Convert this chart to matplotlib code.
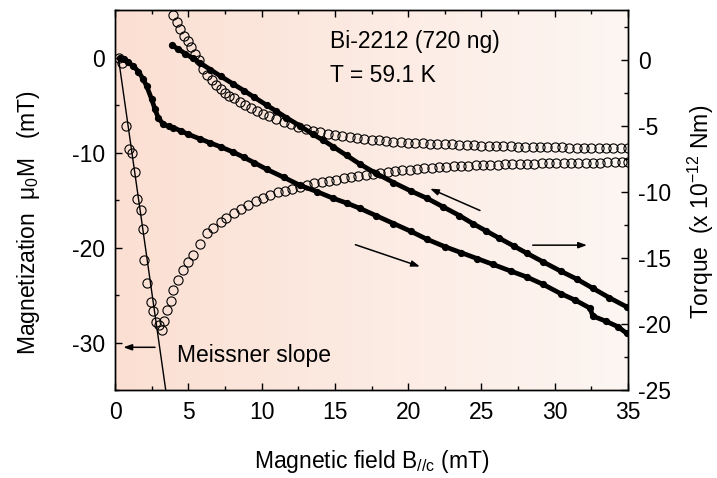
import matplotlib
matplotlib.use("Agg")
import matplotlib.pyplot as plt
import numpy as np
from matplotlib.colors import LinearSegmentedColormap
from matplotlib.ticker import MultipleLocator

plt.rcParams['font.family'] = ['Liberation Sans', 'DejaVu Sans']
plt.rcParams['mathtext.fontset'] = 'custom'
plt.rcParams['mathtext.rm'] = 'Liberation Sans'
plt.rcParams['mathtext.it'] = 'Liberation Sans:italic'
plt.rcParams['axes.unicode_minus'] = False

# ---------------- data ----------------
# Magnetization, virgin (increasing field) branch, open circles (left axis, mT)
m_up_x = [0.3, 0.45, 0.75, 0.98, 1.18, 1.36, 1.48, 1.75, 1.93, 1.98, 2.2, 2.43, 2.61, 2.8, 3.0, 3.18,
          3.36, 3.52, 3.82, 3.98, 4.32, 4.66, 5.0, 5.35, 5.8, 6.25, 6.7, 7.2, 7.6, 8.1, 8.6, 9.1,
          9.6, 10.1, 10.6, 11.1, 11.6, 12.1, 12.6, 13.1, 13.6, 14.1, 14.6, 15.1, 15.6, 16.1, 16.6,
          17.1, 17.6, 18.1, 18.6, 19.1, 19.6, 20.1, 20.6, 21.1, 21.6, 22.1, 22.6, 23.1, 23.6, 24.1,
          24.6, 25.1, 25.6, 26.1, 26.6, 27.1, 27.6, 28.1, 28.6, 29.1, 29.6, 30.1, 30.6, 31.1, 31.6,
          32.1, 32.6, 33.1, 33.6, 34.1, 34.6, 35.0]
m_up_y = [0.0, -0.6, -7.2, -9.65, -10.1, -12.0, -14.9, -16.0, -18.1, -21.3, -23.7, -25.7, -26.7, -27.8, -28.2, -28.7,
          -27.7, -26.6, -25.6, -24.5, -23.4, -22.4, -21.5, -20.8, -19.6, -18.5, -17.9, -17.3, -16.9, -16.4, -15.9, -15.5,
          -15.1, -14.8, -14.5, -14.2, -14.0, -13.8, -13.6, -13.4, -13.25, -13.1, -12.95, -12.85, -12.7, -12.6, -12.45,
          -12.35, -12.25, -12.15, -12.05, -11.95, -11.85, -11.8, -11.7, -11.65, -11.6, -11.55, -11.5, -11.45, -11.4, -11.4,
          -11.35, -11.35, -11.3, -11.3, -11.25, -11.25, -11.2, -11.2, -11.2, -11.15, -11.15, -11.1, -11.1, -11.1, -11.1,
          -11.05, -11.05, -11.05, -11.0, -11.0, -11.0, -11.0]

# Magnetization, decreasing field branch, open circles (left axis, mT)
m_down_x = [3.95, 4.2, 4.45, 4.7, 4.95, 5.2, 5.45, 5.7, 6.0, 6.3, 6.6, 6.9, 7.2, 7.5, 7.8, 8.1, 8.5, 8.9,
            9.3, 9.7, 10.1, 10.5, 11.0, 11.5, 12.0, 12.5, 13.0, 13.5, 14.0, 14.5, 15.0, 15.5, 16.0, 16.5,
            17.0, 17.5, 18.0, 18.5, 19.0, 19.5, 20.0, 20.5, 21.0, 21.5, 22.0, 22.5, 23.0, 23.5, 24.0, 24.5,
            25.0, 25.5, 26.0, 26.5, 27.0, 27.5, 28.0, 28.5, 29.0, 29.5, 30.0, 30.5, 31.0, 31.5, 32.0, 32.5,
            33.0, 33.5, 34.0, 34.5, 35.0]
m_down_y = [4.5, 3.7, 3.0, 2.3, 1.7, 1.1, 0.4, -0.3, -1.2, -1.8, -2.4, -2.9, -3.3, -3.7, -4.0, -4.3, -4.7, -5.0,
            -5.3, -5.6, -5.9, -6.2, -6.5, -6.8, -7.0, -7.3, -7.5, -7.7, -7.85, -8.0, -8.15, -8.3, -8.4, -8.5,
            -8.6, -8.65, -8.7, -8.8, -8.85, -8.9, -8.95, -9.0, -9.0, -9.05, -9.1, -9.1, -9.15, -9.2, -9.2, -9.25,
            -9.3, -9.3, -9.3, -9.35, -9.35, -9.4, -9.4, -9.4, -9.4, -9.45, -9.45, -9.45, -9.5, -9.5, -9.5, -9.5,
            -9.5, -9.55, -9.55, -9.55, -9.55]

# Meissner slope line (left axis)
meissner_x = [0.23, 3.46]
meissner_y = [0.0, -35.0]

# Torque, increasing field, filled dots (right axis, 1e-12 Nm)
t_up_x = [0.34, 0.6, 0.9, 1.25, 1.6, 1.93, 2.16, 2.5, 2.73, 2.95, 3.3, 3.65, 3.98, 4.5, 5.0, 5.8, 6.5, 7.2,
          8.07, 8.8, 9.5, 10.35, 11.5, 12.6, 13.8, 14.9, 15.8, 16.7, 17.8, 19.0, 20.2, 21.3, 22.5, 23.6,
          24.7, 25.8, 27.0, 28.1, 29.2, 30.4, 31.4, 32.4, 32.6, 33.5, 34.3, 34.9]
t_up_y = [0.13, 0.05, -0.2, -0.5, -0.9, -1.5, -2.0, -3.0, -3.76, -4.4, -4.9, -5.05, -5.15, -5.4, -5.65, -6.0, -6.3, -6.6,
          -7.0, -7.4, -7.8, -8.3, -8.9, -9.5, -10.0, -10.5, -10.85, -11.25, -11.8, -12.4, -13.0, -13.6, -14.15, -14.6,
          -15.05, -15.5, -16.0, -16.45, -17.0, -17.7, -18.2, -18.8, -19.4, -19.8, -20.2, -20.7]

# Torque, decreasing field, filled dots (right axis, 1e-12 Nm)
t_down_x = [3.87, 4.3, 4.8, 5.3, 5.8, 6.5, 7.2, 8.07, 8.8, 9.5, 10.35, 11.0, 11.7, 12.6, 13.5, 14.2, 14.9,
            15.8, 16.7, 17.8, 19.0, 20.2, 21.3, 22.4, 23.5, 24.4, 25.3, 26.2, 27.2, 28.1, 29.2, 30.4, 31.5,
            32.6, 33.7, 34.9]
t_down_y = [1.1, 0.8, 0.45, 0.1, -0.25, -0.75, -1.25, -1.85, -2.35, -2.85, -3.45, -3.9, -4.4, -5.0, -5.65, -6.1, -6.6,
            -7.25, -7.9, -8.6, -9.3, -9.95, -10.5, -11.15, -11.8, -12.4, -12.95, -13.5, -14.1, -14.65, -15.3, -16.0, -16.6,
            -17.3, -18.0, -18.7]

x_ticks = [0, 5, 10, 15, 20, 25, 30, 35]
left_ticks = [0, -10, -20, -30]
right_ticks = [0, -5, -10, -15, -20, -25]

FS = 16.5

fig = plt.figure(figsize=(7.17, 4.78), dpi=100)
ax = fig.add_axes([0.1604, 0.184, 0.7155, 0.795])

# background gradient
cmap = LinearSegmentedColormap.from_list('bg', ['#fbdfd2', '#fcebe3', '#fdf6f2'])
grad = np.linspace(0, 1, 256).reshape(1, -1)
ax.imshow(grad, extent=[0, 35, -35, 5], aspect='auto', cmap=cmap, zorder=0, interpolation='bicubic')

ax.plot(meissner_x, meissner_y, color='black', lw=1.0, zorder=2)
ax.plot(m_up_x, m_up_y, linestyle='none', marker='o', ms=6.6, mfc='none', mec='black', mew=0.8, zorder=3)
ax.plot(m_down_x, m_down_y, linestyle='none', marker='o', ms=6.6, mfc='none', mec='black', mew=0.8, zorder=3)

ax.set_xlim(0, 35)
ax.set_ylim(-35, 5)
ax.set_xticks(x_ticks)
ax.set_yticks(left_ticks)
ax.xaxis.set_minor_locator(MultipleLocator(2.5))
ax.yaxis.set_minor_locator(MultipleLocator(5))
ax.tick_params(axis='both', which='both', direction='in', top=True, labelsize=FS, width=1.0)
ax.tick_params(which='major', length=5)
ax.tick_params(which='minor', length=3)
ax.tick_params(axis='y', pad=7)
ax.tick_params(axis='x', pad=8)

ax.set_xlabel(r'Magnetic field B$_{\mathregular{//c}}$ (mT)', fontsize=FS)
ax.set_ylabel('Magnetization  μ$_0$M   (mT)', fontsize=FS)
ax.xaxis.set_label_coords(0.5, -0.152)
ax.yaxis.set_label_coords(-0.142, 0.44)

# annotations
ax.text(14.67, 1.7, 'Bi-2212 (720 ng)', fontsize=FS, ha='left', va='center', zorder=6)
ax.text(14.67, -1.9, 'T = 59.1 K', fontsize=FS, ha='left', va='center', zorder=6)
ax.text(4.2, -31.4, 'Meissner slope', fontsize=FS, ha='left', va='center', zorder=6)

arrow_kw = dict(arrowstyle='-|>,head_length=0.5,head_width=0.18', color='black', lw=1.1,
                shrinkA=0, shrinkB=0)
ax.annotate('', xy=(0.57, -30.5), xytext=(2.73, -30.5), arrowprops=arrow_kw, zorder=6)
ax.annotate('', xy=(21.5, -13.8), xytext=(24.9, -16.1), arrowprops=arrow_kw, zorder=6)
ax.annotate('', xy=(20.8, -22.0), xytext=(16.4, -19.7), arrowprops=arrow_kw, zorder=6)
ax.annotate('', xy=(32.2, -19.75), xytext=(28.5, -19.75), arrowprops=arrow_kw, zorder=6)

# torque on right axis
ax2 = ax.twinx()
ax2.plot(t_up_x, t_up_y, color='black', lw=3.4, marker='o', ms=4.2, mfc='black', mec='black',
         solid_capstyle='round', solid_joinstyle='round', zorder=4)
ax2.plot(t_down_x, t_down_y, color='black', lw=3.4, marker='o', ms=4.2, mfc='black', mec='black',
         solid_capstyle='round', solid_joinstyle='round', zorder=4)
ax2.set_ylim(-25, 3.75)
ax2.set_yticks(right_ticks)
ax2.yaxis.set_minor_locator(MultipleLocator(2.5))
ax2.tick_params(axis='y', which='both', direction='in', labelsize=FS, width=1.0, pad=7)
ax2.tick_params(which='major', length=5)
ax2.tick_params(which='minor', length=3)
ax2.set_ylabel('Torque  (x 10$^{-12}$ Nm)', fontsize=FS)
ax2.yaxis.set_label_coords(1.112, 0.468)

for a in (ax, ax2):
    for s in a.spines.values():
        s.set_linewidth(1.0)

fig.savefig('out.png', dpi=100)
